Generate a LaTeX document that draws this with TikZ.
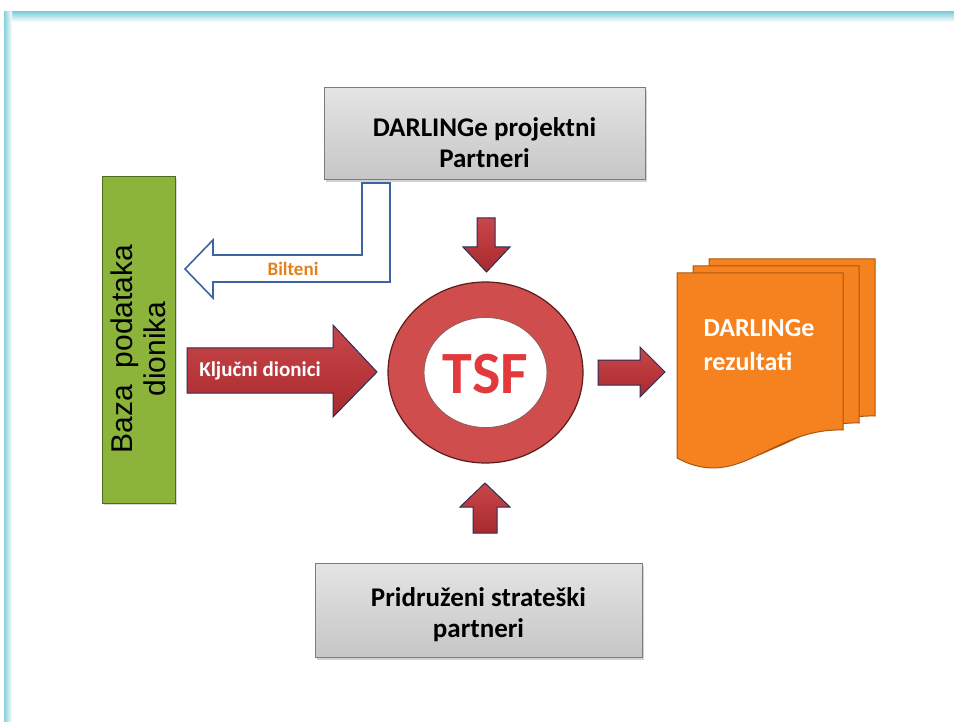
\documentclass[tikz,border=0pt]{standalone}
\usepackage{fontspec}
\setmainfont{Carlito}
\newfontfamily\arialfont{Liberation Sans}
\usetikzlibrary{shadows}
\definecolor{frameC}{HTML}{86D0DA}
\definecolor{grayTop}{HTML}{E4E4E4}
\definecolor{grayBot}{HTML}{C6C6C6}
\definecolor{grayEdge}{HTML}{7C7C7C}
\definecolor{greenFill}{HTML}{8CB33A}
\definecolor{greenEdge}{HTML}{4E6A1C}
\definecolor{arrowRed}{HTML}{A8292D}
\definecolor{arrowRedL}{HTML}{C8474A}
\definecolor{arrowEdge}{HTML}{2B2E59}
\definecolor{ringRed}{HTML}{CF4D4D}
\definecolor{ringEdge}{HTML}{5A1C1C}
\definecolor{tsfRed}{HTML}{E23A3C}
\definecolor{docOrange}{HTML}{F5821F}
\definecolor{docEdge}{HTML}{A9560E}
\definecolor{biltBlue}{HTML}{3D63A0}
\definecolor{biltOrange}{HTML}{E4801C}
\tikzset{
  graybox/.style={draw=grayEdge, line width=1pt, top color=grayTop, bottom color=grayBot,
    inner sep=0pt,
    drop shadow={shadow xshift=1.5pt, shadow yshift=-2.5pt, opacity=0.35}},
  graytext/.style={align=center, inner sep=0pt, font=\fontsize{27}{31}\selectfont\bfseries, text=black},
  greenbar/.style={draw=greenEdge, line width=1pt, fill=greenFill, inner sep=0pt,
    drop shadow={shadow xshift=1.5pt, shadow yshift=-2pt, opacity=0.3}},
  greentext/.style={align=center, inner sep=0pt, font=\arialfont\fontsize{30}{33}\selectfont, text=black},
  redarrow/.style={draw=arrowEdge, line width=1pt, line join=miter, top color=arrowRedL, bottom color=arrowRed},
  docpage/.style={draw=docEdge, line width=1pt, fill=docOrange},
}
\begin{document}
\begin{tikzpicture}[x=1pt,y=-1pt]
\useasboundingbox (0,0) rectangle (954,722);
\fill[white] (0,0) rectangle (954,722);
% frame
\shade[top color=frameC, bottom color=white] (4,12) rectangle (954,22);
\shade[left color=frameC, right color=white] (4,12) rectangle (12,722);

% boxes
\node[graybox, minimum width=321pt, minimum height=92pt] (partners) at (484.5,134) {};
\node[graytext] (partnersT) at ([yshift=-9pt]partners.center) {DARLINGe projektni\\Partneri};
\node[graybox, minimum width=327pt, minimum height=94pt] (strategic) at (478.5,610) {};
\node[graytext] (strategicT) at ([yshift=-5pt]strategic.center) {Pridruženi strateški\\partneri};
\node[greenbar, minimum width=73pt, minimum height=326pt] (baza) at (138.5,340) {};
\node[greentext, rotate=90] (bazaT) at ([yshift=-9pt]baza.center) {Baza~ podataka\\dionika};

% TSF ring
\coordinate (tsfc) at (485.5,372.5);
\fill[ringRed, even odd rule] (tsfc) ellipse [x radius=97.5, y radius=90.5] (tsfc) ellipse [x radius=61.5, y radius=55];
\draw[ringEdge, line width=1.2pt] (tsfc) ellipse [x radius=97.5, y radius=90.5];
\draw[ringEdge!70, line width=0.8pt] (tsfc) ellipse [x radius=61.5, y radius=55];
\node[text=tsfRed, font=\fontsize{60}{60}\selectfont\bfseries] (tsf) at (485.5,374) {TSF};

% documents
\begin{scope}[shift={(32,-14)}]
\draw[docpage] (677,273) -- (843,273) -- (843,430) .. controls (770,428) and (740,492) .. (677,458) -- cycle;
\end{scope}
\begin{scope}[shift={(16,-7)}]
\draw[docpage] (677,273) -- (843,273) -- (843,430) .. controls (770,428) and (740,492) .. (677,458) -- cycle;
\end{scope}
\draw[docpage] (677,273) -- (843,273) -- (843,430) .. controls (770,428) and (740,492) .. (677,458) -- cycle;
\node[anchor=west, align=left, text=white, font=\fontsize{26}{34}\selectfont\bfseries] (results) at (700,345) {DARLINGe\\rezultati};

% Kljucni dionici arrow
\draw[redarrow] (187,348) -- (333,348) -- (333,325) -- (377,372) -- (333,417) -- (333,393) -- (187,393) -- cycle;
\node[text=white, font=\fontsize{21}{24}\selectfont\bfseries] (kljucni) at (260,371) {Ključni dionici};

% arrow to documents
\draw[redarrow] (598,360) -- (640,360) -- (640,347) -- (665,372) -- (640,397) -- (640,385) -- (598,385) -- cycle;
% down arrow
\draw[redarrow] (477,218) -- (495,218) -- (495,247) -- (510,247) -- (486.5,272) -- (463,247) -- (477,247) -- cycle;
% up arrow
\draw[redarrow] (473,533) -- (497,533) -- (497,507) -- (510,507) -- (485,483) -- (460,507) -- (473,507) -- cycle;

% Bilteni hollow arrow
\draw[biltBlue, line width=1.6pt, fill=white, line join=miter]
  (362,183) -- (390,183) -- (390,282) -- (213,282) -- (213,298) -- (185,269) -- (213,240) -- (213,255) -- (362,255) -- cycle;
\node[text=biltOrange, font=\fontsize{19}{22}\selectfont\bfseries] (bilteni) at (293,268.5) {Bilteni};
\end{tikzpicture}
\end{document}
